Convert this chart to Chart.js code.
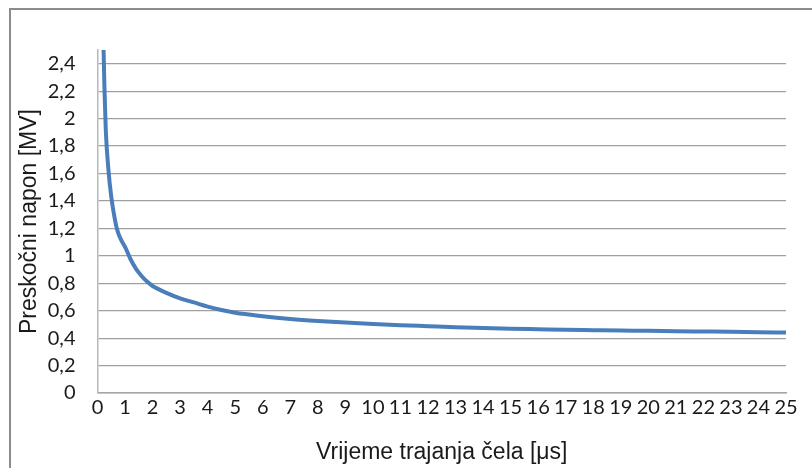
<!DOCTYPE html>
<html>
<head>
<meta charset="utf-8">
<script src="https://cdn.jsdelivr.net/npm/chart.js@4/dist/chart.umd.min.js"></script>
<style>
html,body{margin:0;padding:0;background:#fff;}
#wrap{width:812px;height:468px;position:relative;}
</style>
</head>
<body>
<div id="wrap"><canvas id="c" width="812" height="468"></canvas></div>
<script>
// Data
const xValues = [0.2, 0.25, 0.3, 0.4, 0.5, 0.6, 0.7, 0.8, 0.9, 1, 1.2, 1.4, 1.6, 1.8, 2, 2.5, 3, 3.5, 4, 4.5, 5, 6, 7, 8, 9, 10, 11, 12, 13, 14, 15, 16, 17, 18, 19, 20, 21, 22, 23, 24, 25];
const yValues = [2.7, 2.24, 1.92, 1.62, 1.43, 1.3, 1.2, 1.14, 1.1, 1.065, 0.975, 0.905, 0.853, 0.812, 0.78, 0.73, 0.69, 0.66, 0.63, 0.605, 0.585, 0.56, 0.54, 0.525, 0.513, 0.503, 0.494, 0.487, 0.48, 0.474, 0.469, 0.465, 0.461, 0.458, 0.455, 0.453, 0.45, 0.448, 0.446, 0.443, 0.441];
const xTickValues = [0,1,2,3,4,5,6,7,8,9,10,11,12,13,14,15,16,17,18,19,20,21,22,23,24,25];
const xTickLabels = ['0','1','2','3','4','5','6','7','8','9','10','11','12','13','14','15','16','17','18','19','20','21','22','23','24','25'];
const yTickValues = [0, 0.2, 0.4, 0.6, 0.8, 1, 1.2, 1.4, 1.6, 1.8, 2, 2.2, 2.4];
const yTickLabels = ['0','0,2','0,4','0,6','0,8','1','1,2','1,4','1,6','1,8','2','2,2','2,4'];
const xTitle = 'Vrijeme trajanja čela [μs]';
const yTitle = 'Preskočni napon [MV]';

const points = xValues.map((x, i) => ({x: x, y: yValues[i]}));

const framePlugin = {
  id: 'frame',
  beforeDraw(chart) {
    const ctx = chart.ctx;
    ctx.save();
    ctx.fillStyle = '#fff';
    ctx.fillRect(0, 0, chart.width, chart.height);
    ctx.strokeStyle = '#8c8c8c';
    ctx.lineWidth = 2;
    ctx.beginPath();
    ctx.moveTo(10, chart.height);
    ctx.lineTo(10, 9);
    ctx.lineTo(chart.width, 9);
    ctx.stroke();
    ctx.restore();
  }
};

new Chart(document.getElementById('c'), {
  type: 'line',
  data: {
    datasets: [{
      data: points,
      borderColor: '#4a7ebb',
      borderWidth: 4,
      pointRadius: 0,
      fill: false,
      cubicInterpolationMode: 'monotone'
    }]
  },
  options: {
    responsive: false,
    animation: false,
    events: [],
    layout: {padding: {left: 0, right: 26, top: 50, bottom: 0}},
    plugins: {legend: {display: false}, tooltip: {enabled: false}},
    scales: {
      x: {
        type: 'linear',
        min: 0, max: 25,
        afterFit(s) { s.height = 75; },
        afterBuildTicks(s) { s.ticks = xTickValues.map(v => ({value: v})); },
        ticks: {
          autoSkip: false,
          maxRotation: 0,
          padding: 3,
          color: '#1a1a1a',
          font: {family: 'Lato', size: 20},
          callback: (v) => xTickLabels[xTickValues.indexOf(v)]
        },
        grid: {display: false, drawTicks: false},
        border: {display: true, color: '#a6a6a6', width: 1.5},
        title: {
          display: true, text: xTitle, color: '#1a1a1a',
          font: {family: 'Liberation Sans', size: 23},
          padding: {top: 4, bottom: 2}
        }
      },
      y: {
        type: 'linear',
        min: 0, max: 2.5,
        afterFit(s) { s.width = 97.5; },
        afterBuildTicks(s) { s.ticks = yTickValues.map(v => ({value: v})); },
        ticks: {
          padding: 22,
          color: '#1a1a1a',
          font: {family: 'Lato', size: 20},
          callback: (v) => yTickLabels[yTickValues.indexOf(v)]
        },
        grid: {display: true, color: '#a0a0a0', lineWidth: 1.2, drawTicks: false},
        border: {display: true, color: '#b8b8b8', width: 1.5},
        title: {
          display: true, text: yTitle, color: '#1a1a1a',
          font: {family: 'Liberation Sans', size: 23},
          padding: {top: 16, bottom: 0}
        }
      }
    }
  },
  plugins: [framePlugin]
});
</script>
</body>
</html>
